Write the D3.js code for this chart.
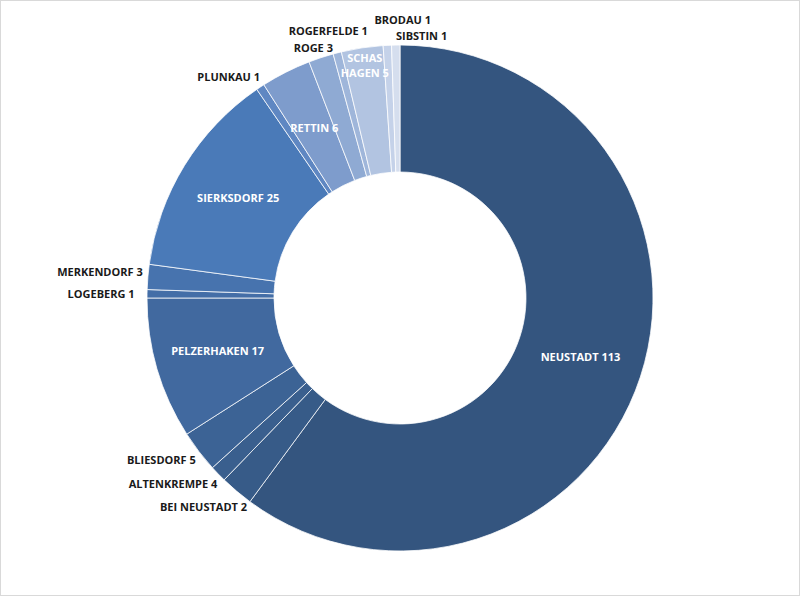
<!DOCTYPE html>
<html>
<head>
<meta charset="utf-8">
<script src="https://cdn.jsdelivr.net/npm/d3@7"></script>
<style>
  html, body { margin: 0; padding: 0; background: #fff; }
  svg { display: block; }
</style>
</head>
<body>
<svg id="chart" width="800" height="596"></svg>
<script>
// ---- data ----
const categories = ["NEUSTADT", "ALTENKREMPE", "BEI NEUSTADT", "BLIESDORF", "PELZERHAKEN",
  "LOGEBERG", "MERKENDORF", "SIERKSDORF", "PLUNKAU", "RETTIN", "ROGE", "ROGERFELDE",
  "SCHASHAGEN", "BRODAU", "SIBSTIN"];
const values = [113, 4, 2, 5, 17, 1, 3, 25, 1, 6, 3, 1, 5, 1, 1];

// ---- styles / layout ----
const colors = ["#34557f", "#375b88", "#3a5f8e", "#3c6395", "#41699f", "#446ea7", "#4773ae",
  "#4a7ab8", "#5f87c2", "#7e9ccc", "#8faad3", "#9fb6da", "#b2c4e1", "#c5d2e9", "#d5deee"];
// label placement: inside (white) at radius r, or outside with nudges
const labelLayout = {
  "NEUSTADT":    {r: 190, dx: 0, dy: 0, inside: true},
  "PELZERHAKEN": {r: 190, dx: 0, dy: 0, inside: true},
  "SIERKSDORF":  {r: 190, dx: 0, dy: 0, inside: true},
  "RETTIN":      {r: 190, dx: 0, dy: 0, inside: true},
  "SCHASHAGEN":  {r: 235, dx: 0, dy: 0, inside: true, lines: ["SCHAS", "HAGEN 5"]},
  "ALTENKREMPE": {r: 265, dx: -56, dy: -16},
  "BEI NEUSTADT":{r: 265, dx: -6, dy: 25},
  "BLIESDORF":   {r: 265, dx: -28, dy: 1},
  "LOGEBERG":    {r: 265, dx: -34, dy: 1},
  "MERKENDORF":  {r: 265, dx: -36, dy: -4},
  "PLUNKAU":     {r: 265, dx: -25, dy: 0},
  "ROGE":        {r: 265, dx: -4, dy: 2},
  "ROGERFELDE":  {r: 265, dx: -6, dy: -10},
  "BRODAU":      {r: 265, dx: 16, dy: -13},
  "SIBSTIN":     {r: 265, dx: 26, dy: 3}
};

const W = 800, H = 596;
const cx = 400, cy = 298, outerR = 253, innerR = 126;

const svg = d3.select("#chart");
svg.append("rect").attr("x", 0.5).attr("y", 0.5).attr("width", W - 1).attr("height", H - 1)
  .attr("fill", "#fff").attr("stroke", "#d9d9d9");

const data = categories.map((c, i) => ({name: c, value: values[i], idx: i}));
const pie = d3.pie().value(d => d.value).sort(null);
const arcs = pie(data);
const arc = d3.arc().innerRadius(innerR).outerRadius(outerR);

const g = svg.append("g").attr("transform", `translate(${cx},${cy})`);
g.selectAll("path").data(arcs).join("path")
  .attr("d", arc)
  .attr("fill", d => colors[d.data.idx])
  .attr("stroke", "#ffffff")
  .attr("stroke-width", 0.9)
  .attr("stroke-opacity", 0.85);

const labels = g.append("g")
  .attr("font-family", "'Open Sans', sans-serif")
  .attr("font-weight", 700)
  .attr("font-size", 11);

arcs.forEach(d => {
  const L = labelLayout[d.data.name];
  const a = (d.startAngle + d.endAngle) / 2;
  const x = L.r * Math.sin(a) + L.dx;
  const y = -L.r * Math.cos(a) + L.dy;
  const t = labels.append("text")
    .attr("text-anchor", "middle")
    .attr("fill", L.inside ? "#ffffff" : "#1a1a1a");
  const lines = L.lines || [d.data.name + " " + d.data.value];
  const lh = 15;
  lines.forEach((ln, k) => {
    t.append("tspan")
      .attr("x", x)
      .attr("y", y + (k - (lines.length - 1) / 2) * lh)
      .attr("dy", "0.35em")
      .text(ln);
  });
});
</script>
</body>
</html>
